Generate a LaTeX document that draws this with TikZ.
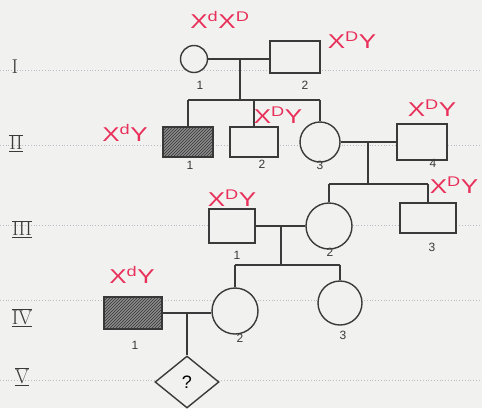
\documentclass[tikz,border=0pt]{standalone}
\usepackage{fontspec}
\newfontfamily\handfont{Liberation Sans}
\usetikzlibrary{shapes.geometric,patterns}
\definecolor{paper}{HTML}{F1F1EF}
\definecolor{ink}{HTML}{3A3A3A}
\definecolor{redink}{HTML}{E8305A}
\definecolor{rule}{HTML}{B8BCC4}
\tikzset{
  male/.style={draw=ink, line width=1.4pt, fill=paper, rectangle, inner sep=0pt},
  female/.style={draw=ink, line width=1.4pt, fill=paper, circle, inner sep=0pt},
  affected/.style={fill=black!45, postaction={pattern=north east lines, pattern color=black!80}},
  unknown/.style={draw=ink, line width=1.4pt, fill=paper, diamond, inner sep=0pt, minimum width=64pt, minimum height=52pt, font=\fontsize{18}{18}\selectfont\handfont},
  link/.style={draw=ink, line width=1.4pt},
  num/.style={text=ink, font=\fontsize{12}{12}\selectfont\handfont},
  geno/.style={text=redink, font=\fontsize{20}{20}\selectfont\handfont, xscale=1.3},
  gen/.style={text=ink, font=\fontsize{20}{20}\selectfont},
  ruleline/.style={draw=rule, dotted, line width=0.8pt}
}
\begin{document}
\begin{tikzpicture}[x=1pt,y=-1pt]
\useasboundingbox[fill=paper] (0,0) rectangle (482,408);
% ruled lines
\foreach \yy in {70,145,225,300,380} \draw[ruleline] (0,\yy) -- (482,\yy);
% generation numerals
\node[gen] (gI) at (15,67) {I};
\node[gen] (gII) at (16,143) {$\overline{\underline{\mathrm{II}}}$};
\node[gen] (gIII) at (22,229) {$\overline{\underline{\mathrm{III}}}$};
\node[gen] (gIV) at (22,318) {$\overline{\underline{\mathrm{IV}}}$};
\node[gen] (gV) at (22,377) {$\overline{\underline{\mathrm{V}}}$};
% generation I
\node[female, minimum size=27pt] (I1) at (194,59) {};
\node[male, minimum width=50pt, minimum height=32pt] (I2) at (295,57) {};
% generation II
\node[male, affected, minimum width=50pt, minimum height=30pt] (II1) at (188,142) {};
\node[male, minimum width=48pt, minimum height=30pt] (II2) at (254,142) {};
\node[female, minimum size=40pt] (II3) at (320,142) {};
\node[male, minimum width=50pt, minimum height=36pt] (II4) at (422,142) {};
% generation III
\node[male, minimum width=46pt, minimum height=34pt] (III1) at (232,226) {};
\node[female, minimum size=46pt] (III2) at (329,226) {};
\node[male, minimum width=56pt, minimum height=30pt] (III3) at (428,218) {};
% generation IV
\node[male, affected, minimum width=58pt, minimum height=32pt] (IV1) at (133,313) {};
\node[female, minimum size=46pt] (IV2) at (235,311) {};
\node[female, minimum size=44pt] (IV3) at (340,303) {};
% generation V
\node[unknown] (V1) at (187,382) {?};
% couples and descent
\coordinate (mI) at (240,59);
\coordinate (sI) at (240,100);
\draw[link] (I1.east) -- (I2.west |- I1.east);
\draw[link] (mI) -- (sI);
\draw[link] (II1.north |- sI) -- (II3.north |- sI);
\draw[link] (II1.north |- sI) -- (II1.north);
\draw[link] (II2.north |- sI) -- (II2.north);
\draw[link] (II3.north |- sI) -- (II3.north);

\coordinate (mII) at (368,142);
\coordinate (sII) at (368,184);
\draw[link] (II3.east) -- (II4.west);
\draw[link] (mII) -- (sII);
\draw[link] (III2.north |- sII) -- (III3.north |- sII);
\draw[link] (III2.north |- sII) -- (III2.north);
\draw[link] (III3.north |- sII) -- (III3.north);

\coordinate (mIII) at (281,226);
\coordinate (sIII) at (281,265);
\draw[link] (III1.east) -- (III2.west);
\draw[link] (mIII) -- (sIII);
\draw[link] (IV2.north |- sIII) -- (IV3.north |- sIII);
\draw[link] (IV2.north |- sIII) -- (IV2.north);
\draw[link] (IV3.north |- sIII) -- (IV3.north);

\coordinate (mIV) at (187,313);
\draw[link] (IV1.east) -- (IV2.west |- IV1.east);
\draw[link] (mIV) -- (V1.north);
% individual numbers
\node[num] (nI1) at (200,85) {1};
\node[num] (nI2) at (305,85) {2};
\node[num] (nII1) at (190,165) {1};
\node[num] (nII2) at (262,164) {2};
\node[num] (nII3) at (320,165) {3};
\node[num] (nII4) at (433,163) {4};
\node[num] (nIII1) at (237,255) {1};
\node[num] (nIII2) at (330,252) {2};
\node[num] (nIII3) at (432,247) {3};
\node[num] (nIV1) at (135,345) {1};
\node[num] (nIV2) at (240,338) {2};
\node[num] (nIV3) at (343,335) {3};
% genotypes
\node[geno] (gtI1) at (220,20) {X\textsuperscript{d}X\textsuperscript{D}};
\node[geno] (gtI2) at (352,40) {X\textsuperscript{D}Y};
\node[geno] (gtII1) at (125,133) {X\textsuperscript{d}Y};
\node[geno] (gtII2) at (278,115) {X\textsuperscript{D}Y};
\node[geno] (gtII4) at (432,108) {X\textsuperscript{D}Y};
\node[geno] (gtIII1) at (232,198) {X\textsuperscript{D}Y};
\node[geno] (gtIII3) at (454,185) {X\textsuperscript{D}Y};
\node[geno] (gtIV1) at (132,275) {X\textsuperscript{d}Y};
\end{tikzpicture}
\end{document}
